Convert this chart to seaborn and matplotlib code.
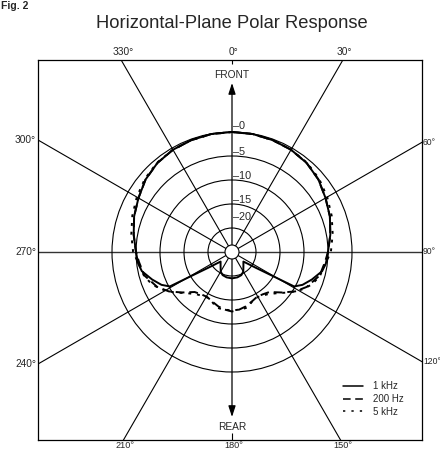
import numpy as np
import pandas as pd
import matplotlib
matplotlib.use("Agg")
import matplotlib.pyplot as plt
from matplotlib import font_manager
import seaborn as sns
from matplotlib.patches import Circle
from matplotlib.lines import Line2D

sns.set_theme(style="white")
plt.rcParams["font.family"] = ["Liberation Sans", "DejaVu Sans"]
_names = {f.name for f in font_manager.fontManager.ttflist}
NARROW = "Liberation Sans Narrow" if "Liberation Sans Narrow" in _names else None

# ---------------- data ----------------
title = "Horizontal-Plane Polar Response"
fig_label = "Fig. 2"
freq_labels = ["1 kHz", "200 Hz", "5 kHz"]

# angles (deg, 0 = front) and response (dB), one half; the pattern is symmetric
angles_1k = [0, 10, 20, 30, 40, 50, 60, 70, 80, 90, 97, 102, 109, 115, 119, 121, 123.5,
             130, 140, 150, 158, 168, 180]
db_1k = [0, -0.05, -0.2, -0.4, -0.8, -1.5, -2.5, -3.3, -4.2, -5.0, -5.3, -5.8, -7.4, -8.8,
         -10.2, -16.1, -19.0, -21.9, -21.3, -20.3, -19.8, -19.6, -19.5]

angles_200 = [0, 10, 20, 30, 40, 50, 60, 70, 80, 90, 96, 105, 115, 122, 129, 137, 144,
              151, 158, 166, 173, 180]
db_200 = [0, -0.05, -0.2, -0.4, -0.8, -1.5, -2.5, -3.3, -4.2, -5.0, -5.5, -6.1, -7.8, -9.5,
          -11.6, -13.6, -14.1, -14.3, -13.9, -13.3, -12.9, -12.6]

angles_5k = [0, 10, 20, 30, 40, 50, 60, 70, 80, 90, 99, 105, 112, 118, 125, 132, 140, 150,
             156, 164, 170, 180]
db_5k = [0, -0.05, -0.2, -0.4, -0.7, -1.3, -2.1, -2.9, -3.7, -4.4, -5.6, -6.0, -7.0, -8.4,
         -10.3, -12.2, -13.5, -14.2, -14.1, -13.0, -12.9, -12.8]

ring_db = [0, -5, -10, -15, -20]
ring_labels = ["\u20130", "\u20135", "\u201310", "\u201315", "\u201320"]
floor_db = -25
spoke_angles = [0, 30, 60, 90, 120, 150, 180, 210, 240, 270, 300, 330]
spoke_labels = ["0\u00b0", "30\u00b0", "60\u00b0", "90\u00b0", "120\u00b0", "150\u00b0",
                "180\u00b0", "210\u00b0", "240\u00b0", "270\u00b0", "300\u00b0", "330\u00b0"]

# ---------------- layout (pixels) ----------------
W, H, DPI = 440, 451, 100
PX = 4.8                     # pixels per dB
cx, cy = 232, 252            # centre of polar plot in px
box_l, box_r, box_t, box_b = 38, 422, 60, 440


def full_curve(angles, db):
    a = list(angles) + [360 - v for v in reversed(angles[:-1])]
    d = list(db) + list(reversed(db[:-1]))
    return np.array(a, float), np.array(d, float)


rows = []
for lab, ang, db in [(freq_labels[0], angles_1k, db_1k),
                     (freq_labels[1], angles_200, db_200),
                     (freq_labels[2], angles_5k, db_5k)]:
    a, d = full_curve(ang, db)
    r = d - floor_db
    th = np.deg2rad(a)
    for i, (xx, yy) in enumerate(zip(r * np.sin(th), r * np.cos(th))):
        rows.append({"Frequency": lab, "order": i, "x": xx, "y": yy})
df = pd.DataFrame(rows)

fig = plt.figure(figsize=(W / DPI, H / DPI), dpi=DPI)
ax = fig.add_axes([box_l / W, (H - box_b) / H, (box_r - box_l) / W, (box_b - box_t) / H])
xl = (-(cx - box_l) / PX, (box_r - cx) / PX)
yl = (-(box_b - cy) / PX, (cy - box_t) / PX)
ax.set_xlim(*xl)
ax.set_ylim(*yl)
ax.set_xticks([])
ax.set_yticks([])
for s in ax.spines.values():
    s.set_color("black")
    s.set_linewidth(0.9)
    s.set_visible(True)
ax.set_facecolor("white")

grid_kw = dict(color="black", lw=0.8, zorder=1, solid_capstyle="butt")

# spokes
front_tip = (cy - 83) / PX
rear_tip = -(417 - cy) / PX
for a in spoke_angles:
    if a in (0, 180):
        continue
    t = np.deg2rad(a)
    col = "#333333" if a in (90, 270) else "black"
    ax.plot([0, 70 * np.sin(t)], [0, 70 * np.cos(t)], color=col,
            lw=1.0 if a in (90, 270) else 0.8, zorder=1)

arrow_style = "-|>,head_length=0.55,head_width=0.18"
ax.annotate("", xy=(0, front_tip), xytext=(0, 0),
            arrowprops=dict(arrowstyle=arrow_style, lw=0.9, color="black",
                            shrinkA=0, shrinkB=0, mutation_scale=12), zorder=1)
ax.annotate("", xy=(0, rear_tip), xytext=(0, 0),
            arrowprops=dict(arrowstyle=arrow_style, lw=0.9, color="black",
                            shrinkA=0, shrinkB=0, mutation_scale=12), zorder=1)
ax.plot([0, 0], [yl[1], (cy - 64) / PX], **grid_kw)
ax.plot([0, 0], [yl[0], -(433 - cy) / PX], **grid_kw)
ax.text(0, (cy - 75) / PX, "FRONT", ha="center", va="center", fontsize=7.3)
ax.text(0, -(427 - cy) / PX, "REAR", ha="center", va="center", fontsize=7.3)

# rings
for d in ring_db:
    ax.add_patch(Circle((0, 0), d - floor_db, fill=False, ec="black", lw=0.8, zorder=1))
ax.add_patch(Circle((0, 0), 7 / PX, fc="white", ec="black", lw=0.8, zorder=2))

# ring labels
label_px = [126, 152, 176, 200, 217]
for lab, ypx in zip(ring_labels, label_px):
    ax.text(0.2, (cy - ypx) / PX, lab, ha="left", va="center", fontsize=7.8, zorder=5)

# response curves via seaborn
sns.lineplot(data=df, x="x", y="y", style="Frequency", hue="Frequency",
             palette=["black"] * 3, style_order=freq_labels, hue_order=freq_labels,
             dashes={freq_labels[0]: "", freq_labels[1]: (4.5, 2.5), freq_labels[2]: (1.5, 3)},
             units="Frequency", estimator=None, sort=False, lw=1.4, legend=False,
             ax=ax, zorder=3)
ax.set_xlabel("")
ax.set_ylabel("")
ax.set_xlim(*xl)
ax.set_ylim(*yl)

# angle labels around the box
for a, lab in zip(spoke_angles, spoke_labels):
    t = np.deg2rad(a)
    dx, dy = np.sin(t), np.cos(t)
    ts = []
    if dx > 1e-9:
        ts.append(xl[1] / dx)
    if dx < -1e-9:
        ts.append(xl[0] / dx)
    if dy > 1e-9:
        ts.append(yl[1] / dy)
    if dy < -1e-9:
        ts.append(yl[0] / dy)
    tt = min(ts)
    px, py = tt * dx, tt * dy
    if abs(py - yl[1]) < 1e-6:
        ax.text(px + 0.4, yl[1] + 8 / PX, lab, ha="center", va="center", fontsize=7.3, clip_on=False)
    elif abs(py - yl[0]) < 1e-6:
        ax.text(px + 0.4, yl[0] - 1 / PX, lab, ha="center", va="top", fontsize=6.6, clip_on=False)
    elif abs(px - xl[0]) < 1e-6:
        ax.text(xl[0] - 2 / PX, py, lab, ha="right", va="center", fontsize=7.3, clip_on=False)
    else:
        if NARROW:
            ax.text(xl[1] + 2 / PX, py, lab, ha="left", va="center", fontsize=7.3,
                    family=[NARROW, "DejaVu Sans"], clip_on=False)
        else:
            ax.text(xl[1] + 1 / PX, py, lab, ha="left", va="center", fontsize=6.2, clip_on=False)

# legend
handles = [Line2D([], [], color="black", lw=1.1, ls="-"),
           Line2D([], [], color="black", lw=1.1, dashes=(5, 3)),
           Line2D([], [], color="black", lw=1.1, dashes=(1.5, 4))]
ax.legend(handles, freq_labels, loc="upper left", bbox_to_anchor=(343 / W, 1 - 381 / H),
          bbox_transform=fig.transFigure, frameon=False, fontsize=7, handlelength=2.1,
          handletextpad=1.0, labelspacing=0.3, borderpad=0, borderaxespad=0)

fig.text(cx / W, 1 - 27.5 / H, title, ha="center", va="baseline", fontsize=13.2)
fig.text(1 / W, 1 - 1 / H, fig_label, ha="left", va="top", fontsize=7.5, fontweight="bold")

fig.savefig("out.png", dpi=DPI, facecolor="white")
